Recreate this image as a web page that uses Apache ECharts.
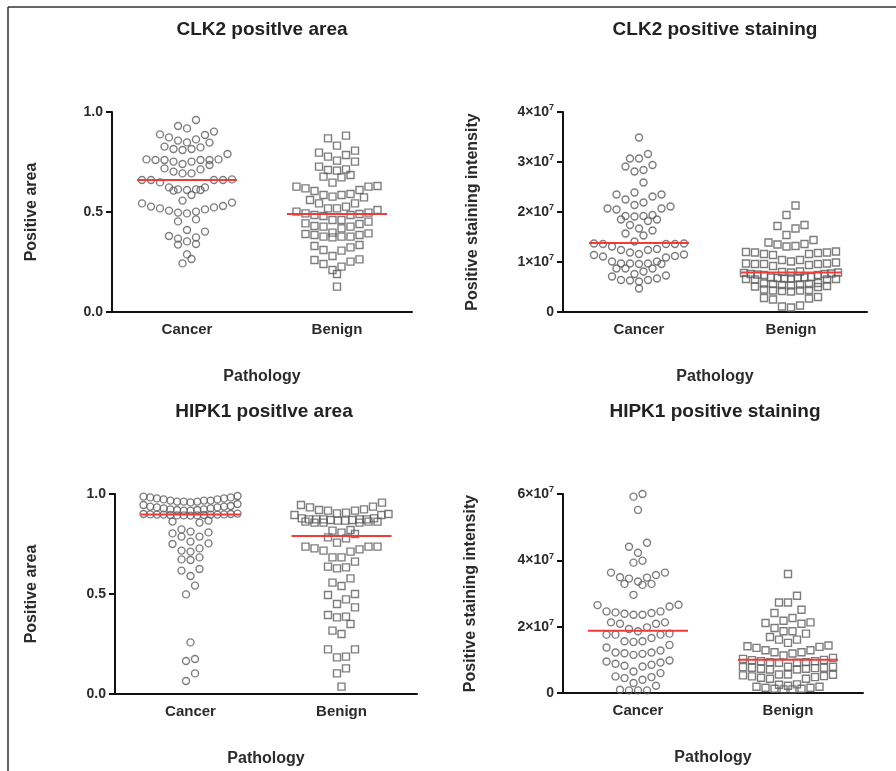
<!DOCTYPE html>
<html>
<head>
<meta charset="utf-8">
<title>CLK2 / HIPK1 staining</title>
<script src="https://cdn.jsdelivr.net/npm/echarts@6/dist/echarts.min.js"></script>
<style>
  html, body { margin: 0; padding: 0; background: #fff; }
  #chart { width: 896px; height: 771px; }
</style>
</head>
<body>
<div id="chart"></div>
<script>
// ---- data ----
const categories = ['Cancer', 'Benign'];

// CLK2 positive area (fraction)
const clk2AreaCancer = [0.96, 0.918, 0.93, 0.902, 0.885, 0.888, 0.873, 0.863, 0.857, 0.848, 0.847, 0.827, 0.815, 0.81, 0.815, 0.823,
  0.763, 0.752, 0.763, 0.735, 0.76, 0.76, 0.76, 0.74, 0.76, 0.752, 0.79, 0.713, 0.718, 0.702, 0.693, 0.693,
  0.66, 0.66, 0.66, 0.66, 0.663, 0.648, 0.623, 0.613, 0.61, 0.607, 0.61, 0.613, 0.623, 0.585, 0.557, 0.547,
  0.543, 0.527, 0.518, 0.507, 0.497, 0.493, 0.502, 0.513, 0.523, 0.53, 0.463, 0.453, 0.402, 0.41, 0.38, 0.367,
  0.34, 0.337, 0.353, 0.373, 0.288, 0.243, 0.265];
const clk2AreaBenign = [0.868, 0.882, 0.832, 0.807, 0.797, 0.777, 0.785, 0.752, 0.757, 0.727, 0.713, 0.71, 0.707, 0.685, 0.673, 0.677,
  0.647, 0.627, 0.618, 0.61, 0.627, 0.63, 0.605, 0.585, 0.577, 0.56, 0.573, 0.585, 0.59, 0.543, 0.527, 0.518,
  0.51, 0.518, 0.543, 0.502, 0.49, 0.497, 0.485, 0.48, 0.485, 0.493, 0.452, 0.44, 0.427, 0.43, 0.46, 0.418,
  0.46, 0.427, 0.443, 0.397, 0.39, 0.385, 0.377, 0.373, 0.377, 0.377, 0.385, 0.393, 0.33, 0.31, 0.307, 0.323,
  0.335, 0.263, 0.24, 0.252, 0.26, 0.28, 0.21, 0.19, 0.227, 0.127];

// CLK2 positive staining intensity (x10^7)
const clk2StainCancer = [3.49, 3.16, 3.07, 3.07, 2.94, 2.84, 2.81, 2.91, 2.59, 2.39, 2.35, 2.31, 2.35, 2.25, 2.19, 2.11, 2.14,
  2.07, 2.05, 2.07, 1.94, 1.91, 1.85, 1.92, 1.92, 1.82, 1.85, 1.67, 1.74, 1.57, 1.53, 1.63,
  1.37, 1.36, 1.36, 1.36, 1.37, 1.41, 1.24, 1.24, 1.26, 1.31, 1.19, 1.15, 1.12, 1.09, 1.11, 1.14, 1.16,
  1.01, 0.97, 0.97, 0.87, 0.87, 0.87, 0.96, 0.96, 0.97, 1.01, 0.76, 0.71, 0.64, 0.63, 0.67, 0.61, 0.73, 0.64, 0.81, 0.47];
const clk2StainBenign = [2.13, 1.94, 1.74, 1.72, 1.67, 1.54, 1.44, 1.39, 1.36, 1.35, 1.32, 1.31,
  1.21, 1.20, 1.19, 1.19, 1.18, 1.16, 1.16, 1.14, 1.04, 1.04, 1.01, 0.99, 0.97, 0.97, 0.96, 0.96, 0.96, 0.94, 0.92,
  0.81, 0.80, 0.79, 0.79, 0.78, 0.77, 0.76, 0.76, 0.75, 0.74, 0.74, 0.70, 0.69, 0.69, 0.68, 0.68, 0.67, 0.67, 0.66, 0.66, 0.65, 0.65,
  0.58, 0.57, 0.56, 0.56, 0.55, 0.54, 0.53, 0.52, 0.51, 0.50, 0.45, 0.44, 0.43, 0.43, 0.42, 0.41,
  0.30, 0.28, 0.27, 0.25, 0.13, 0.11, 0.09];

// HIPK1 positive area (fraction)
const hipk1AreaCancer = [0.99, 0.983, 0.978, 0.973, 0.967, 0.962, 0.962, 0.958, 0.962, 0.967, 0.967, 0.973, 0.978, 0.983, 0.987,
  0.945, 0.937, 0.933, 0.928, 0.923, 0.92, 0.917, 0.917, 0.92, 0.923, 0.928, 0.933, 0.937, 0.94, 0.95,
  0.9, 0.898, 0.897, 0.897, 0.893, 0.893, 0.895, 0.892, 0.893, 0.895, 0.897, 0.897, 0.898, 0.9, 0.902,
  0.862, 0.857, 0.867, 0.823, 0.808, 0.787, 0.787, 0.803, 0.812, 0.762, 0.75, 0.753, 0.712, 0.717, 0.728,
  0.673, 0.67, 0.683, 0.625, 0.59, 0.617, 0.542, 0.498, 0.258, 0.175, 0.165, 0.103, 0.065];
const hipk1AreaBenign = [0.957, 0.945, 0.937, 0.923, 0.917, 0.907, 0.9, 0.895, 0.895, 0.903, 0.917, 0.92, 0.933,
  0.878, 0.873, 0.873, 0.87, 0.867, 0.862, 0.857, 0.857, 0.857, 0.862, 0.862, 0.867, 0.87, 0.873, 0.873, 0.873, 0.878,
  0.82, 0.807, 0.783, 0.8, 0.778, 0.817, 0.757, 0.717, 0.728, 0.737, 0.737, 0.737, 0.712, 0.723,
  0.662, 0.683, 0.683, 0.633, 0.628, 0.637, 0.578, 0.557, 0.54, 0.5, 0.473, 0.495, 0.433, 0.45,
  0.395, 0.383, 0.35, 0.387, 0.317, 0.3, 0.223, 0.223, 0.183, 0.187, 0.128, 0.103, 0.037];

// HIPK1 positive staining intensity (x10^7)
const hipk1StainCancer = [6.0, 5.92, 5.52, 4.53, 4.41, 4.23, 3.99, 3.93, 3.63, 3.56, 3.63, 3.48, 3.36, 3.29, 3.26, 3.29, 3.45, 3.49,
  2.96, 2.66, 2.61, 2.65, 2.36, 2.46, 2.41, 2.39, 2.43, 2.36, 2.46, 2.13, 2.09, 2.09, 2.13, 1.93, 1.98, 1.86,
  1.79, 1.76, 1.76, 1.76, 1.66, 1.56, 1.45, 1.54, 1.56, 1.37, 1.28, 1.22, 1.18, 1.15, 1.2, 1.22,
  0.98, 0.92, 0.85, 0.8, 0.82, 0.88, 0.95, 0.65, 0.5, 0.45, 0.4, 0.48, 0.6, 0.22, 0.08, 0.08, 0.08, 0.1, 0.3];
const hipk1StainBenign = [3.59, 2.93, 2.73, 2.73, 2.51, 2.41, 2.18, 2.11, 2.09, 2.13, 2.26, 1.86, 1.79, 1.69, 1.86, 1.96, 1.61, 1.51, 1.61,
  1.43, 1.39, 1.29, 1.23, 1.19, 1.23, 1.29, 1.36, 1.41,
  1.13, 1.03, 0.99, 0.96, 0.93, 0.91, 0.91, 0.93, 0.96, 1.0, 1.06,
  0.79, 0.76, 0.73, 0.71, 0.71, 0.73, 0.76, 0.79, 0.78, 0.75,
  0.56, 0.51, 0.46, 0.43, 0.43, 0.48, 0.53, 0.56, 0.55, 0.5,
  0.26, 0.19, 0.16, 0.13, 0.11, 0.11, 0.13, 0.16, 0.19, 0.22, 0.25];

// group medians (red bars)
const clk2AreaMedians = [0.66, 0.49];
const clk2StainMedians = [1.38, 0.79];
const hipk1AreaMedians = [0.897, 0.79];
const hipk1StainMedians = [1.88, 1.0];

// axis tick values
const areaTicks = { max: 1, interval: 0.5 };
const clk2StainTicks = { max: 4, interval: 1 };
const hipk1StainTicks = { max: 6, interval: 2 };

// ---- layout ----
const FONT = '"Liberation Sans", Arial, Helvetica, sans-serif';
const TXT = '#2b2b2b';

const panels = [
  { title: 'CLK2 positlve area', yName: 'Positive area', series: [clk2AreaCancer, clk2AreaBenign], medians: clk2AreaMedians,
    ticks: areaTicks, sci: false, grid: { left: 112, top: 112, width: 300, height: 200 }, titleX: 262, titleY: 30, yGap: 72 },
  { title: 'CLK2 positive staining', yName: 'Positive staining intensity', series: [clk2StainCancer, clk2StainBenign], medians: clk2StainMedians,
    ticks: clk2StainTicks, sci: true, grid: { left: 563, top: 112, width: 304, height: 200 }, titleX: 715, titleY: 30, yGap: 82 },
  { title: 'HIPK1 positlve area', yName: 'Positive area', series: [hipk1AreaCancer, hipk1AreaBenign], medians: hipk1AreaMedians,
    ticks: areaTicks, sci: false, grid: { left: 115, top: 494, width: 302, height: 200 }, titleX: 264, titleY: 412, yGap: 75 },
  { title: 'HIPK1 positive staining', yName: 'Positive staining intensity', series: [hipk1StainCancer, hipk1StainBenign], medians: hipk1StainMedians,
    ticks: hipk1StainTicks, sci: true, grid: { left: 563, top: 494, width: 300, height: 199 }, titleX: 715, titleY: 412, yGap: 84 }
];

// Column scatter layout: neighbouring values within one row band form a row.
// A row holds up to ROW_SOFT points; beyond that only points in a tight band
// (TIGHT_PX) are added, up to ROW_MAX, and the row is squeezed to fit.
// Each row is centred on the category, lowest value in the middle.
function swarmOffsets(values, pxPerUnit) {
  const ROW_PX = 11, TIGHT_PX = 7, ROW_SOFT = 11, ROW_MAX = 15, STEP = 9, MAX_HALF = 47;
  const idx = values.map((v, i) => i).sort((a, b) => values[b] - values[a]);
  const offsets = new Array(values.length).fill(0);
  let k = 0;
  while (k < idx.length) {
    const top = values[idx[k]];
    const row = [];
    while (k < idx.length && row.length < ROW_MAX) {
      const span = (top - values[idx[k]]) * pxPerUnit;
      if (span > ROW_PX || (row.length >= ROW_SOFT && span > TIGHT_PX)) break;
      row.push(idx[k]); k++;
    }
    row.sort((a, b) => values[a] - values[b]);
    const n = row.length;
    const sp = n > 1 ? Math.min(STEP, (2 * MAX_HALF) / (n - 1)) : 0;
    const slots = [];
    for (let i = 0; i < n; i++) slots.push((i - (n - 1) / 2) * sp);
    slots.sort((a, b) => Math.abs(a) - Math.abs(b) || a - b);
    row.forEach((id, j) => { offsets[id] = slots[j]; });
  }
  return offsets;
}

const grids = [], xAxes = [], yAxes = [], series = [], graphics = [];

const axisLineStyle = { color: '#111', width: 2 };

panels.forEach((p, gi) => {
  grids.push(p.grid);
  xAxes.push({
    type: 'category', gridIndex: gi, data: categories, boundaryGap: true,
    name: 'Pathology', nameLocation: 'middle', nameGap: 57,
    nameTextStyle: { fontFamily: FONT, fontWeight: 'bold', fontSize: 16, color: TXT },
    axisLine: { lineStyle: axisLineStyle },
    axisTick: { alignWithLabel: true, length: 6, lineStyle: { color: '#111', width: 2 } },
    axisLabel: { fontFamily: FONT, fontWeight: 'bold', fontSize: 15, color: TXT, margin: 10 },
    splitLine: { show: false }
  });
  const yLabel = p.sci
    ? { formatter: v => v === 0 ? '{b|0}' : '{b|' + v + '×10}{s|7}',
        rich: { b: { fontFamily: FONT, fontWeight: 'bold', fontSize: 14, color: TXT },
                s: { fontFamily: FONT, fontWeight: 'bold', fontSize: 9, color: TXT, verticalAlign: 'top', padding: [0, 0, 8, 0] } } }
    : { formatter: v => v.toFixed(1), fontFamily: FONT, fontWeight: 'bold', fontSize: 14, color: TXT };
  yAxes.push({
    type: 'value', gridIndex: gi, min: 0, max: p.ticks.max, interval: p.ticks.interval,
    name: p.yName, nameLocation: 'middle', nameGap: p.yGap,
    nameTextStyle: { fontFamily: FONT, fontWeight: 'bold', fontSize: 16, color: TXT },
    axisLine: { show: true, lineStyle: axisLineStyle },
    axisTick: { show: true, length: 6, lineStyle: { color: '#111', width: 2 } },
    axisLabel: Object.assign({ margin: 9 }, yLabel),
    splitLine: { show: false }
  });

  const pxPerUnit = p.grid.height / p.ticks.max;
  p.series.forEach((vals, ci) => {
    const offs = swarmOffsets(vals, pxPerUnit);
    series.push({
      type: 'scatter', xAxisIndex: gi, yAxisIndex: gi,
      symbol: ci === 0 ? 'circle' : 'rect', symbolSize: 7,
      itemStyle: { color: 'rgba(255,255,255,0)', borderColor: '#5c5c5c', borderWidth: 1.4 },
      silent: true, z: 2,
      data: vals.map((v, i) => ({ value: [ci, v], symbolOffset: [offs[i], 0] }))
    });
  });

  series.push({
    type: 'custom', xAxisIndex: gi, yAxisIndex: gi, z: 5, silent: true,
    data: p.medians.map((m, ci) => [ci, m]),
    renderItem: (params, api) => {
      const c = api.coord([api.value(0), api.value(1)]);
      return { type: 'line', shape: { x1: c[0] - 50, y1: c[1], x2: c[0] + 50, y2: c[1] },
               style: { stroke: '#f23a3a', lineWidth: 2 } };
    }
  });

  graphics.push({
    type: 'text', x: p.titleX, y: p.titleY,
    style: { text: p.title, font: 'bold 19px ' + FONT, fill: '#222', textAlign: 'center', textVerticalAlign: 'middle' }
  });
});

// figure frame
graphics.push({ type: 'line', shape: { x1: 8, y1: 7, x2: 896, y2: 7 }, style: { stroke: '#333', lineWidth: 1.5 } });
graphics.push({ type: 'line', shape: { x1: 8, y1: 7, x2: 8, y2: 771 }, style: { stroke: '#333', lineWidth: 1.5 } });

const chart = echarts.init(document.getElementById('chart'), null, { renderer: 'canvas' });
chart.setOption({
  animation: false,
  backgroundColor: '#fff',
  grid: grids, xAxis: xAxes, yAxis: yAxes, series: series,
  graphic: graphics
});
</script>
</body>
</html>
